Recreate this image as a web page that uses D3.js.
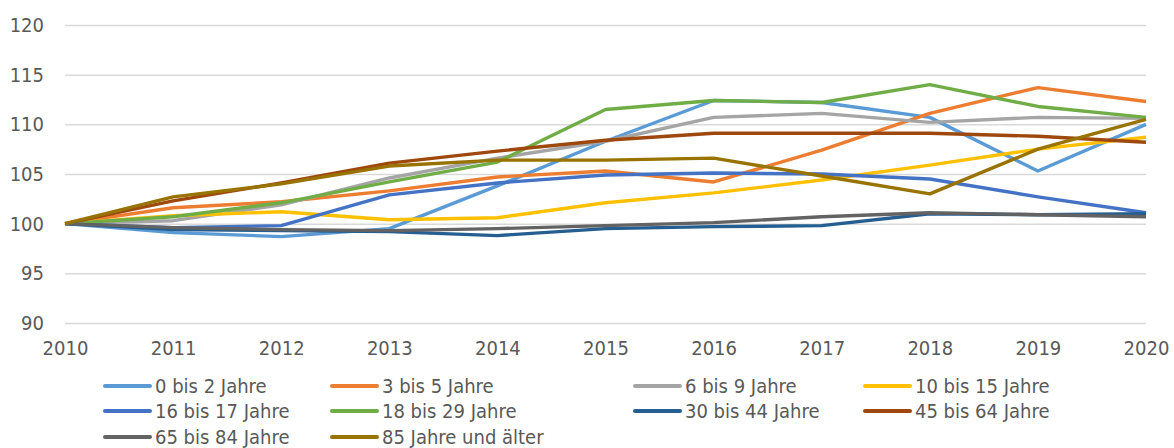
<!doctype html>
<html>

<head>
  <meta charset="utf-8">
  <title>d3</title>
  <style>
    body { margin: 0; background: #fff; }
    text { font-family: 'Liberation Sans Narrow', 'DejaVu Sans Condensed', sans-serif; fill: #595959; }
  </style>
</head>

<body>
  <svg width="1174" height="448"></svg>

  <script src="https://d3js.org/d3.v7.min.js"></script>
  <script>
    // data
    const years = [2010, 2011, 2012, 2013, 2014, 2015, 2016, 2017, 2018, 2019, 2020];
    const yTicks = [90, 95, 100, 105, 110, 115, 120];
    const seriesNames = [
      '0 bis 2 Jahre', '3 bis 5 Jahre', '6 bis 9 Jahre', '10 bis 15 Jahre',
      '16 bis 17 Jahre', '18 bis 29 Jahre', '30 bis 44 Jahre', '45 bis 64 Jahre',
      '65 bis 84 Jahre', '85 Jahre und älter'
    ];
    const colors = ['#5b9bd5', '#ed7d31', '#a5a5a5', '#ffc000', '#4472c4',
      '#70ad47', '#255e91', '#9e480e', '#636363', '#997300'];

    const age0to2 = [100, 99.1, 98.7, 99.5, 103.8, 108.3, 112.4, 112.2, 110.7, 105.3, 110.0];
    const age3to5 = [100, 101.6, 102.2, 103.3, 104.7, 105.3, 104.2, 107.4, 111.1, 113.7, 112.3];
    const age6to9 = [100, 100.3, 101.9, 104.6, 106.6, 108.3, 110.7, 111.1, 110.2, 110.7, 110.6];
    const age10to15 = [100, 100.8, 101.2, 100.4, 100.6, 102.1, 103.1, 104.4, 105.9, 107.5, 108.7];
    const age16to17 = [100, 99.6, 99.8, 102.9, 104.1, 104.9, 105.1, 105.0, 104.5, 102.7, 101.1];
    const age18to29 = [100, 100.7, 102.1, 104.2, 106.2, 111.5, 112.4, 112.2, 114.0, 111.8, 110.7];
    const age30to44 = [100, 99.4, 99.3, 99.2, 98.8, 99.5, 99.7, 99.8, 101.0, 100.9, 101.0];
    const age45to64 = [100, 102.3, 104.1, 106.1, 107.3, 108.4, 109.1, 109.1, 109.1, 108.8, 108.2];
    const age65to84 = [100, 99.6, 99.4, 99.3, 99.5, 99.8, 100.1, 100.7, 101.1, 100.9, 100.7];
    const age85plus = [100, 102.7, 104.0, 105.8, 106.4, 106.4, 106.6, 104.8, 103.0, 107.5, 110.5];

    const seriesValues = [age0to2, age3to5, age6to9, age10to15, age16to17,
      age18to29, age30to44, age45to64, age65to84, age85plus];

    const series = seriesNames.map((name, i) => ({
      name,
      color: colors[i],
      values: years.map((yr, j) => ({ year: yr, value: seriesValues[i][j] }))
    }));

    const svg = d3.select('svg');
    const margin = { top: 25, left: 65, right: 28, bottom: 125 };
    const width = +svg.attr('width') - margin.left - margin.right;
    const height = +svg.attr('height') - margin.top - margin.bottom;
    const g = svg.append('g').attr('transform', `translate(${margin.left}, ${margin.top})`);

    const x = d3.scaleLinear().domain([2010, 2020]).range([0, width]);
    const y = d3.scaleLinear().domain([90, 120]).range([height, 0]);

    // gridlines
    g.append('g')
      .call(d3.axisLeft(y).tickValues(yTicks).tickSize(-width).tickFormat(''))
      .call(a => a.select('.domain').remove())
      .call(a => a.selectAll('line').attr('stroke', '#d9d9d9').attr('stroke-width', 1.5));

    // y tick labels
    g.append('g')
      .call(d3.axisLeft(y).tickValues(yTicks).tickSize(0).tickPadding(21))
      .call(a => a.select('.domain').remove())
      .call(a => a.selectAll('text').attr('font-size', 20).attr('fill', null));

    // x tick labels
    g.append('g')
      .attr('transform', `translate(0, ${height})`)
      .call(d3.axisBottom(x).tickValues(years).tickFormat(d3.format('d')).tickSize(0).tickPadding(18))
      .call(a => a.select('.domain').remove())
      .call(a => a.selectAll('text').attr('font-size', 20).attr('fill', null));

    svg.selectAll('.tick text').attr('font-family', null);

    const line = d3.line()
      .x(d => x(d.year))
      .y(d => y(d.value));

    g.selectAll('.series')
      .data(series)
      .join('path')
      .attr('class', 'series')
      .attr('fill', 'none')
      .attr('stroke', d => d.color)
      .attr('stroke-width', 3.4)
      .attr('stroke-linejoin', 'round')
      .attr('d', d => line(d.values));

    // legend, 4 columns like the excel one
    const legendCols = [105, 332, 635, 865];
    const legendRows = [386, 411, 437];
    const legend = svg.append('g');
    const item = legend.selectAll('g')
      .data(series)
      .join('g')
      .attr('transform', (d, i) => `translate(${legendCols[i % 4]}, ${legendRows[Math.floor(i / 4)]})`);
    item.append('line')
      .attr('x1', 0).attr('x2', 45)
      .attr('stroke', d => d.color)
      .attr('stroke-width', 4)
      .attr('stroke-linecap', 'round');
    item.append('text')
      .attr('x', 50)
      .attr('dy', '0.35em')
      .attr('font-size', 20)
      .text(d => d.name);
  </script>
</body>

</html>
